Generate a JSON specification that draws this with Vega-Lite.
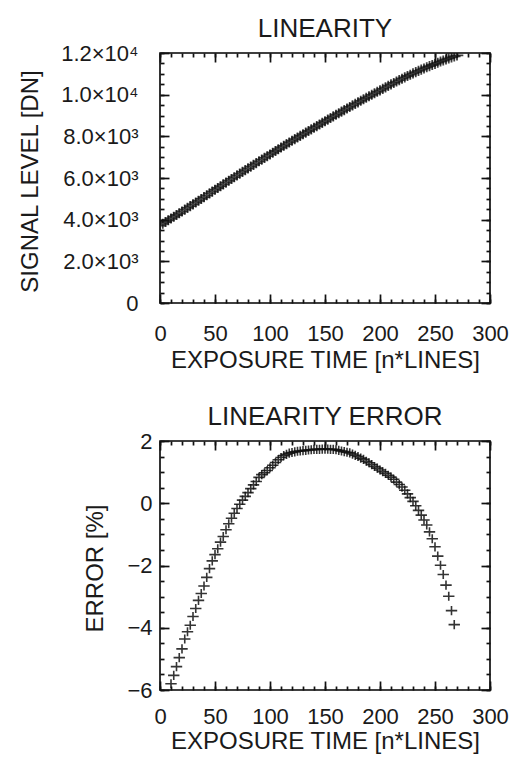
{
  "$schema": "https://vega.github.io/schema/vega-lite/v6.json",
  "padding": {"left": 17, "top": 15, "right": 2, "bottom": 2},
  "background": "white",
  "config": {
    "view": {"stroke": "black", "strokeWidth": 1.6},
    "font": "Liberation Sans",
    "axis": {"grid": false, "domain": false, "labelFont": "Liberation Sans", "labelFontSize": 22, "labelColor": "#1a1a1a", "titleFont": "Liberation Sans", "titleFontSize": 24, "titleFontWeight": "normal", "titleColor": "#1a1a1a", "tickColor": "#111111", "tickWidth": 1.7, "labelFlush": false, "labelOverlap": false},
    "title": {"font": "Liberation Sans", "fontSize": 26, "fontWeight": "normal", "color": "#1a1a1a", "anchor": "middle", "frame": "group", "baseline": "alphabetic"}
  },
  "datasets": {
    "lin": [
      {"exposure": 0, "signal": 3720}, {"exposure": 2.5, "signal": 3803}, {"exposure": 5, "signal": 3887}, {"exposure": 7.5, "signal": 3971},
      {"exposure": 10, "signal": 4055}, {"exposure": 12.5, "signal": 4139}, {"exposure": 15, "signal": 4224}, {"exposure": 17.5, "signal": 4309},
      {"exposure": 20, "signal": 4394}, {"exposure": 22.5, "signal": 4482}, {"exposure": 25, "signal": 4566}, {"exposure": 27.5, "signal": 4649},
      {"exposure": 30, "signal": 4736}, {"exposure": 32.5, "signal": 4823}, {"exposure": 35, "signal": 4909}, {"exposure": 37.5, "signal": 4995},
      {"exposure": 40, "signal": 5081}, {"exposure": 42.5, "signal": 5170}, {"exposure": 45, "signal": 5260}, {"exposure": 47.5, "signal": 5348},
      {"exposure": 50, "signal": 5434}, {"exposure": 52.5, "signal": 5520}, {"exposure": 55, "signal": 5607}, {"exposure": 57.5, "signal": 5692},
      {"exposure": 60, "signal": 5780}, {"exposure": 62.5, "signal": 5867}, {"exposure": 65, "signal": 5954}, {"exposure": 67.5, "signal": 6039},
      {"exposure": 70, "signal": 6125}, {"exposure": 72.5, "signal": 6209}, {"exposure": 75, "signal": 6294}, {"exposure": 77.5, "signal": 6378},
      {"exposure": 80, "signal": 6462}, {"exposure": 82.5, "signal": 6547}, {"exposure": 85, "signal": 6631}, {"exposure": 87.5, "signal": 6715},
      {"exposure": 90, "signal": 6801}, {"exposure": 92.5, "signal": 6884}, {"exposure": 95, "signal": 6965}, {"exposure": 97.5, "signal": 7047},
      {"exposure": 100, "signal": 7130}, {"exposure": 102.5, "signal": 7213}, {"exposure": 105, "signal": 7297}, {"exposure": 107.5, "signal": 7381},
      {"exposure": 110, "signal": 7463}, {"exposure": 112.5, "signal": 7545}, {"exposure": 115, "signal": 7625}, {"exposure": 117.5, "signal": 7706},
      {"exposure": 120, "signal": 7785}, {"exposure": 122.5, "signal": 7864}, {"exposure": 125, "signal": 7943}, {"exposure": 127.5, "signal": 8021},
      {"exposure": 130, "signal": 8100}, {"exposure": 132.5, "signal": 8178}, {"exposure": 135, "signal": 8256}, {"exposure": 137.5, "signal": 8335},
      {"exposure": 140, "signal": 8413}, {"exposure": 142.5, "signal": 8491}, {"exposure": 145, "signal": 8568}, {"exposure": 147.5, "signal": 8647},
      {"exposure": 150, "signal": 8724}, {"exposure": 152.5, "signal": 8802}, {"exposure": 155, "signal": 8879}, {"exposure": 157.5, "signal": 8956},
      {"exposure": 160, "signal": 9033}, {"exposure": 162.5, "signal": 9109}, {"exposure": 165, "signal": 9184}, {"exposure": 167.5, "signal": 9260},
      {"exposure": 170, "signal": 9336}, {"exposure": 172.5, "signal": 9411}, {"exposure": 175, "signal": 9485}, {"exposure": 177.5, "signal": 9559},
      {"exposure": 180, "signal": 9632}, {"exposure": 182.5, "signal": 9705}, {"exposure": 185, "signal": 9779}, {"exposure": 187.5, "signal": 9850},
      {"exposure": 190, "signal": 9922}, {"exposure": 192.5, "signal": 9994}, {"exposure": 195, "signal": 10065}, {"exposure": 197.5, "signal": 10137},
      {"exposure": 200, "signal": 10208}, {"exposure": 202.5, "signal": 10279}, {"exposure": 205, "signal": 10351}, {"exposure": 207.5, "signal": 10422},
      {"exposure": 210, "signal": 10492}, {"exposure": 212.5, "signal": 10562}, {"exposure": 215, "signal": 10629}, {"exposure": 217.5, "signal": 10698},
      {"exposure": 220, "signal": 10766}, {"exposure": 222.5, "signal": 10832}, {"exposure": 225, "signal": 10895}, {"exposure": 227.5, "signal": 10958},
      {"exposure": 230, "signal": 11022}, {"exposure": 232.5, "signal": 11082}, {"exposure": 235, "signal": 11142}, {"exposure": 237.5, "signal": 11201},
      {"exposure": 240, "signal": 11259}, {"exposure": 242.5, "signal": 11317}, {"exposure": 245, "signal": 11370}, {"exposure": 247.5, "signal": 11425},
      {"exposure": 250, "signal": 11480}, {"exposure": 252.5, "signal": 11535}, {"exposure": 255, "signal": 11590}, {"exposure": 257.5, "signal": 11640},
      {"exposure": 260, "signal": 11690}, {"exposure": 262.5, "signal": 11740}, {"exposure": 265, "signal": 11790}, {"exposure": 267.5, "signal": 11840},
      {"exposure": 270, "signal": 11885}
    ],
    "err": [
      {"exposure": 10, "error": -5.80}, {"exposure": 12.5, "error": -5.53}, {"exposure": 15, "error": -5.25}, {"exposure": 17.5, "error": -4.96},
      {"exposure": 20, "error": -4.68}, {"exposure": 22.5, "error": -4.36}, {"exposure": 25, "error": -4.13}, {"exposure": 27.5, "error": -3.92},
      {"exposure": 30, "error": -3.64}, {"exposure": 32.5, "error": -3.38}, {"exposure": 35, "error": -3.12}, {"exposure": 37.5, "error": -2.90},
      {"exposure": 40, "error": -2.66}, {"exposure": 42.5, "error": -2.38}, {"exposure": 45, "error": -2.10}, {"exposure": 47.5, "error": -1.85},
      {"exposure": 50, "error": -1.65}, {"exposure": 52.5, "error": -1.46}, {"exposure": 55, "error": -1.25}, {"exposure": 57.5, "error": -1.07},
      {"exposure": 60, "error": -0.85}, {"exposure": 62.5, "error": -0.66}, {"exposure": 65, "error": -0.48}, {"exposure": 67.5, "error": -0.32},
      {"exposure": 70, "error": -0.17}, {"exposure": 72.5, "error": -0.03}, {"exposure": 75, "error": 0.10}, {"exposure": 77.5, "error": 0.22},
      {"exposure": 80, "error": 0.34}, {"exposure": 82.5, "error": 0.47}, {"exposure": 85, "error": 0.59}, {"exposure": 87.5, "error": 0.70},
      {"exposure": 90, "error": 0.83}, {"exposure": 92.5, "error": 0.92}, {"exposure": 95, "error": 0.98}, {"exposure": 97.5, "error": 1.05},
      {"exposure": 100, "error": 1.14}, {"exposure": 102.5, "error": 1.22}, {"exposure": 105, "error": 1.31}, {"exposure": 107.5, "error": 1.40},
      {"exposure": 110, "error": 1.47}, {"exposure": 112.5, "error": 1.53}, {"exposure": 115, "error": 1.57}, {"exposure": 117.5, "error": 1.61},
      {"exposure": 120, "error": 1.63}, {"exposure": 122.5, "error": 1.65}, {"exposure": 125, "error": 1.67}, {"exposure": 127.5, "error": 1.68},
      {"exposure": 130, "error": 1.69}, {"exposure": 132.5, "error": 1.70}, {"exposure": 135, "error": 1.71}, {"exposure": 137.5, "error": 1.72},
      {"exposure": 140, "error": 1.73}, {"exposure": 142.5, "error": 1.73}, {"exposure": 145, "error": 1.73}, {"exposure": 147.5, "error": 1.74},
      {"exposure": 150, "error": 1.74}, {"exposure": 152.5, "error": 1.74}, {"exposure": 155, "error": 1.73}, {"exposure": 157.5, "error": 1.73},
      {"exposure": 160, "error": 1.72}, {"exposure": 162.5, "error": 1.70}, {"exposure": 165, "error": 1.68}, {"exposure": 167.5, "error": 1.66},
      {"exposure": 170, "error": 1.64}, {"exposure": 172.5, "error": 1.62}, {"exposure": 175, "error": 1.58}, {"exposure": 177.5, "error": 1.54},
      {"exposure": 180, "error": 1.50}, {"exposure": 182.5, "error": 1.45}, {"exposure": 185, "error": 1.41}, {"exposure": 187.5, "error": 1.35},
      {"exposure": 190, "error": 1.30}, {"exposure": 192.5, "error": 1.24}, {"exposure": 195, "error": 1.18}, {"exposure": 197.5, "error": 1.13},
      {"exposure": 200, "error": 1.07}, {"exposure": 202.5, "error": 1.01}, {"exposure": 205, "error": 0.96}, {"exposure": 207.5, "error": 0.90},
      {"exposure": 210, "error": 0.84}, {"exposure": 212.5, "error": 0.77}, {"exposure": 215, "error": 0.68}, {"exposure": 217.5, "error": 0.60},
      {"exposure": 220, "error": 0.52}, {"exposure": 222.5, "error": 0.42}, {"exposure": 225, "error": 0.30}, {"exposure": 227.5, "error": 0.18},
      {"exposure": 230, "error": 0.06}, {"exposure": 232.5, "error": -0.08}, {"exposure": 235, "error": -0.23}, {"exposure": 237.5, "error": -0.38},
      {"exposure": 240, "error": -0.54}, {"exposure": 242.5, "error": -0.70}, {"exposure": 245, "error": -0.92}, {"exposure": 247.5, "error": -1.14},
      {"exposure": 250, "error": -1.40}, {"exposure": 252.5, "error": -1.70}, {"exposure": 255, "error": -1.99}, {"exposure": 257.5, "error": -2.29},
      {"exposure": 260, "error": -2.63}, {"exposure": 262.5, "error": -2.99}, {"exposure": 265, "error": -3.45}, {"exposure": 267.5, "error": -3.90}
    ]
  },
  "spacing": 138,
  "bounds": "flush",
  "vconcat": [
    {
      "width": 330,
      "height": 250,
      "title": {"text": "LINEARITY", "offset": 0},
      "resolve": {"axis": {"x": "independent", "y": "independent"}},
      "layer": [
        {
          "data": {"name": "lin"},
          "mark": {"type": "point", "shape": "M-1,0H1M0,-0.8V0.8", "filled": false, "size": 160, "strokeWidth": 1.8, "color": "#111111", "opacity": 0.8, "clip": true},
          "encoding": {
            "x": {"field": "exposure", "type": "quantitative", "scale": {"domain": [0, 300], "nice": false, "zero": false},
              "axis": {"orient": "bottom", "values": [0, 50, 100, 150, 200, 250, 300], "ticks": true, "tickSize": -9, "labelPadding": 29,
                "title": "EXPOSURE TIME [n*LINES]", "titleX": 165, "titleY": 64, "titleBaseline": "alphabetic", "titleAlign": "center"}},
            "y": {"field": "signal", "type": "quantitative", "scale": {"domain": [0, 12000], "nice": false},
              "axis": {"orient": "left", "values": [0, 2000, 4000, 6000, 8000, 10000, 12000], "ticks": true, "tickSize": -9, "labelPadding": 31,
                "labelExpr": "datum.value == 0 ? '0' : datum.value >= 10000 ? format(datum.value / 10000, '.1f') + '×10⁴' : format(datum.value / 1000, '.1f') + '×10³'",
                "encode": {"labels": {"update": {"dy": {"signal": "datum.value === 0 ? -4 : datum.value === 12000 ? 14 : datum.value <= 2000 ? 3 : datum.value <= 4000 ? 5 : 7"}}}},
                "title": "SIGNAL LEVEL [DN]", "titleX": -123, "titleY": 128, "titleAngle": -90, "titleBaseline": "alphabetic", "titleAlign": "center"}}
          }
        },
        {
          "data": {"name": "lin"},
          "mark": {"type": "point", "opacity": 0},
          "encoding": {
            "x": {"field": "exposure", "type": "quantitative",
              "axis": {"orient": "top", "values": [0, 50, 100, 150, 200, 250, 300], "labels": false, "title": null, "ticks": true, "tickSize": -9}},
            "y": {"field": "signal", "type": "quantitative",
              "axis": {"orient": "right", "offset": -330, "values": [0,500,1000,1500,2000,2500,3000,3500,4000,4500,5000,5500,6000,6500,7000,7500,8000,8500,9000,9500,10000,10500,11000,11500,12000], "labels": false, "title": null, "ticks": true, "tickSize": 4}}
          }
        },
        {
          "data": {"name": "lin"},
          "mark": {"type": "point", "opacity": 0},
          "encoding": {
            "x": {"field": "exposure", "type": "quantitative",
              "axis": {"orient": "top", "values": [0,10,20,30,40,50,60,70,80,90,100,110,120,130,140,150,160,170,180,190,200,210,220,230,240,250,260,270,280,290,300], "labels": false, "title": null, "ticks": true, "tickSize": -4}},
            "y": {"field": "signal", "type": "quantitative",
              "axis": {"orient": "right", "values": [0, 2000, 4000, 6000, 8000, 10000, 12000], "labels": false, "title": null, "ticks": true, "tickSize": -9}}
          }
        },
        {
          "data": {"name": "lin"},
          "mark": {"type": "point", "opacity": 0},
          "encoding": {
            "x": {"field": "exposure", "type": "quantitative",
              "axis": {"orient": "bottom", "values": [0,10,20,30,40,50,60,70,80,90,100,110,120,130,140,150,160,170,180,190,200,210,220,230,240,250,260,270,280,290,300], "labels": false, "title": null, "ticks": true, "tickSize": -4}},
            "y": {"field": "signal", "type": "quantitative",
              "axis": {"orient": "right", "values": [0,500,1000,1500,2000,2500,3000,3500,4000,4500,5000,5500,6000,6500,7000,7500,8000,8500,9000,9500,10000,10500,11000,11500,12000], "labels": false, "title": null, "ticks": true, "tickSize": -4}}
          }
        }
      ]
    },
    {
      "width": 330,
      "height": 249,
      "title": {"text": "LINEARITY ERROR", "offset": 0},
      "resolve": {"axis": {"x": "independent", "y": "independent"}},
      "layer": [
        {
          "data": {"name": "err"},
          "mark": {"type": "point", "shape": "M-1,0H1M0,-0.8V0.8", "filled": false, "size": 130, "strokeWidth": 1.6, "color": "#111111", "opacity": 0.85, "clip": true},
          "encoding": {
            "x": {"field": "exposure", "type": "quantitative", "scale": {"domain": [0, 300], "nice": false, "zero": false},
              "axis": {"orient": "bottom", "values": [0, 50, 100, 150, 200, 250, 300], "ticks": true, "tickSize": -9, "labelPadding": 25,
                "title": "EXPOSURE TIME [n*LINES]", "titleX": 165, "titleY": 58, "titleBaseline": "alphabetic", "titleAlign": "center"}},
            "y": {"field": "error", "type": "quantitative", "scale": {"domain": [-6, 2], "nice": false, "zero": false},
              "axis": {"orient": "left", "values": [-6, -4, -2, 0, 2], "ticks": true, "tickSize": -9, "labelPadding": 17,
                "encode": {"labels": {"update": {"dy": {"signal": "datum.value === 2 ? 10 : 5"}}}},
                "title": "ERROR [%]", "titleX": -58, "titleY": 127, "titleAngle": -90, "titleBaseline": "alphabetic", "titleAlign": "center"}}
          }
        },
        {
          "data": {"name": "err"},
          "mark": {"type": "point", "opacity": 0},
          "encoding": {
            "x": {"field": "exposure", "type": "quantitative",
              "axis": {"orient": "top", "values": [0, 50, 100, 150, 200, 250, 300], "labels": false, "title": null, "ticks": true, "tickSize": -9}},
            "y": {"field": "error", "type": "quantitative",
              "axis": {"orient": "right", "offset": -330, "values": [-6,-5.5,-5,-4.5,-4,-3.5,-3,-2.5,-2,-1.5,-1,-0.5,0,0.5,1,1.5,2], "labels": false, "title": null, "ticks": true, "tickSize": 4}}
          }
        },
        {
          "data": {"name": "err"},
          "mark": {"type": "point", "opacity": 0},
          "encoding": {
            "x": {"field": "exposure", "type": "quantitative",
              "axis": {"orient": "top", "values": [0,10,20,30,40,50,60,70,80,90,100,110,120,130,140,150,160,170,180,190,200,210,220,230,240,250,260,270,280,290,300], "labels": false, "title": null, "ticks": true, "tickSize": -4}},
            "y": {"field": "error", "type": "quantitative",
              "axis": {"orient": "right", "values": [-6, -4, -2, 0, 2], "labels": false, "title": null, "ticks": true, "tickSize": -9}}
          }
        },
        {
          "data": {"name": "err"},
          "mark": {"type": "point", "opacity": 0},
          "encoding": {
            "x": {"field": "exposure", "type": "quantitative",
              "axis": {"orient": "bottom", "values": [0,10,20,30,40,50,60,70,80,90,100,110,120,130,140,150,160,170,180,190,200,210,220,230,240,250,260,270,280,290,300], "labels": false, "title": null, "ticks": true, "tickSize": -4}},
            "y": {"field": "error", "type": "quantitative",
              "axis": {"orient": "right", "values": [-6,-5.5,-5,-4.5,-4,-3.5,-3,-2.5,-2,-1.5,-1,-0.5,0,0.5,1,1.5,2], "labels": false, "title": null, "ticks": true, "tickSize": -4}}
          }
        }
      ]
    }
  ]
}
